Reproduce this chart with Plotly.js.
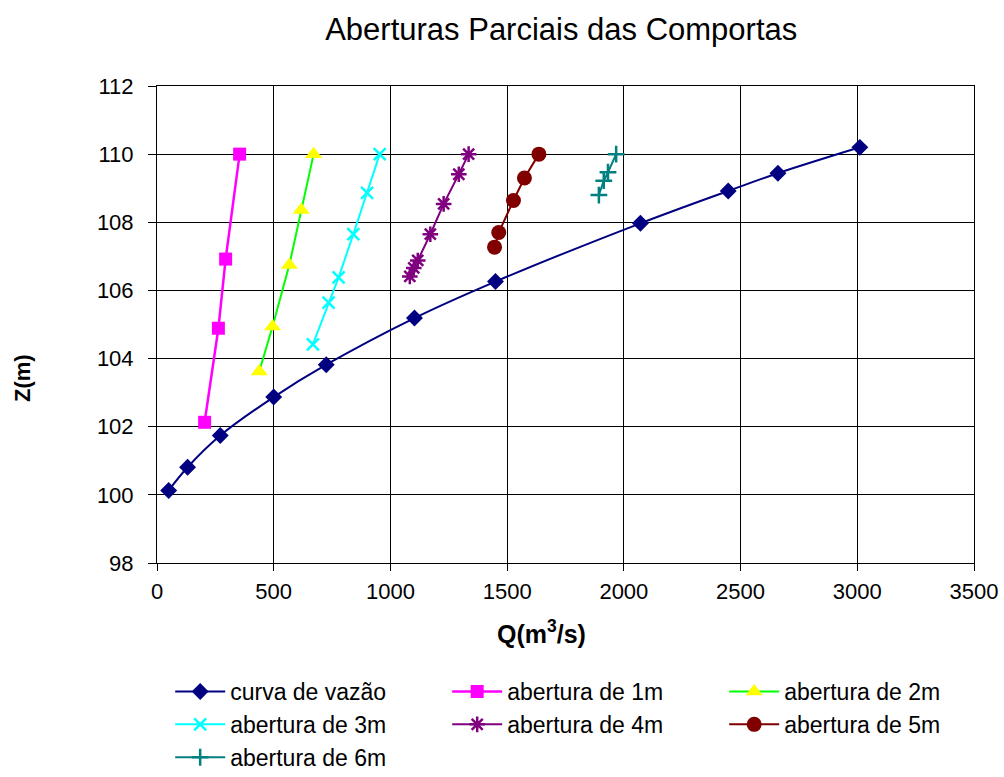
<!DOCTYPE html>
<html>
<head>
<meta charset="utf-8">
<script src="https://cdn.plot.ly/plotly-3.0.1.min.js"></script>
<style>html,body{margin:0;padding:0;background:#fff;}#chart{width:1004px;height:777px;}</style>
</head>
<body>
<div id="chart"></div>
<script>
// Curva de vazão
const curvaQ = [50, 131, 271, 500, 725, 1103, 1450, 2071, 2447, 2660, 3011];
const curvaZ = [100.13, 100.81, 101.74, 102.87, 103.82, 105.19, 106.26, 107.97, 108.92, 109.44, 110.2];
// Aberturas parciais
const ab1Q = [204, 263, 294, 354];
const ab1Z = [102.13, 104.89, 106.92, 110.0];
const ab2Q = [438, 495, 567, 618, 671];
const ab2Z = [103.62, 104.94, 106.75, 108.36, 110.0];
const ab3Q = [668, 735, 778, 841, 900, 954];
const ab3Z = [104.42, 105.64, 106.38, 107.65, 108.86, 110.0];
const ab4Q = [1083, 1100, 1117, 1171, 1228, 1293, 1335];
const ab4Z = [106.41, 106.66, 106.88, 107.65, 108.54, 109.41, 110.0];
const ab5Q = [1446, 1464, 1527, 1574, 1636];
const ab5Z = [107.27, 107.70, 108.64, 109.30, 110.0];
const ab6Q = [1893, 1914, 1932, 1967];
const ab6Z = [108.8, 109.22, 109.47, 110.0];

const names = ['curva de vazão', 'abertura de 1m', 'abertura de 2m', 'abertura de 3m', 'abertura de 4m', 'abertura de 5m', 'abertura de 6m'];
const xTicks = [0, 500, 1000, 1500, 2000, 2500, 3000, 3500];
const yTicks = [98, 100, 102, 104, 106, 108, 110, 112];

const traces = [
  {x: curvaQ, y: curvaZ, name: names[0], mode: 'lines+markers',
   line: {color: '#000080', width: 2, shape: 'spline'},
   marker: {symbol: 'diamond', size: 13, color: '#000080'}},
  {x: ab1Q, y: ab1Z, name: names[1], mode: 'lines+markers',
   line: {color: '#FF00FF', width: 2.5},
   marker: {symbol: 'square', size: 13, color: '#FF00FF'}},
  {x: ab2Q, y: ab2Z, name: names[2], mode: 'lines+markers',
   line: {color: '#00FF00', width: 2},
   marker: {symbol: 'triangle-up', size: 15, color: '#FFFF00'}},
  {x: ab3Q, y: ab3Z, name: names[3], mode: 'lines+markers',
   line: {color: '#00FFFF', width: 2},
   marker: {symbol: 'x-thin', size: 12, line: {color: '#00FFFF', width: 2.5}, color: '#00FFFF'}},
  {x: ab4Q, y: ab4Z, name: names[4], mode: 'lines+markers',
   line: {color: '#800080', width: 2},
   marker: {symbol: 'asterisk', size: 13, line: {color: '#800080', width: 2.5}, color: '#800080'}},
  {x: ab5Q, y: ab5Z, name: names[5], mode: 'lines+markers',
   line: {color: '#800000', width: 2},
   marker: {symbol: 'circle', size: 15, color: '#800000'}},
  {x: ab6Q, y: ab6Z, name: names[6], mode: 'lines+markers',
   line: {color: '#008080', width: 2},
   marker: {symbol: 'cross-thin', size: 12, line: {color: '#008080', width: 2.5}, color: '#008080'}}
];

const layout = {
  width: 1004, height: 777,
  paper_bgcolor: '#ffffff', plot_bgcolor: '#ffffff',
  font: {family: 'Liberation Sans, Arial, sans-serif', color: '#000000'},
  margin: {l: 157, r: 30, t: 86, b: 214, autoexpand: false},
  title: {text: 'Aberturas Parciais das Comportas', font: {size: 31, color: '#000'},
          x: 0.559, xanchor: 'center', y: 0.963, yanchor: 'middle'},
  xaxis: {
    range: [0, 3500], tickvals: xTicks,
    showgrid: true, gridcolor: '#000', gridwidth: 1,
    zeroline: false, showline: true, linecolor: '#000', linewidth: 1, mirror: true,
    ticks: 'outside', ticklen: 7, tickcolor: '#000',
    tickfont: {size: 22}, ticklabelstandoff: 2
  },
  yaxis: {
    range: [98, 112], tickvals: yTicks,
    showgrid: true, gridcolor: '#000', gridwidth: 1,
    zeroline: false, showline: true, linecolor: '#000', linewidth: 1, mirror: true,
    ticks: 'outside', ticklen: 8, tickcolor: '#000',
    tickfont: {size: 22}, ticklabelstandoff: 10
  },
  annotations: [
    {text: '<b>Q(m<sup>3</sup>/s)</b>', xref: 'paper', yref: 'paper',
     x: (541 - 157) / 817, y: (563 - 632) / 477, xanchor: 'center', yanchor: 'middle',
     showarrow: false, font: {size: 25}},
    {text: '<b>Z(m)</b>', xref: 'paper', yref: 'paper', textangle: -90,
     x: (22 - 157) / 817, y: (563 - 378) / 477, xanchor: 'center', yanchor: 'middle',
     showarrow: false, font: {size: 22}}
  ],
  showlegend: true,
  legend: {
    orientation: 'h', xref: 'paper', yref: 'paper',
    x: -0.001, xanchor: 'left', y: -0.2243, yanchor: 'top',
    font: {size: 23}, entrywidth: 198, entrywidthmode: 'pixels',
    itemwidth: 50, indentation: 14, bgcolor: 'rgba(0,0,0,0)', tracegroupgap: 0
  }
};

Plotly.newPlot('chart', traces, layout, {displayModeBar: false, staticPlot: true});
</script>
</body>
</html>
